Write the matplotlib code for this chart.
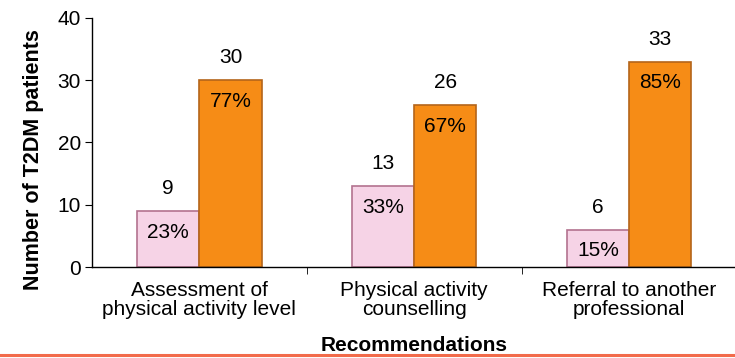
import numpy as np
import matplotlib
matplotlib.use("Agg")
import matplotlib.pyplot as plt
from matplotlib.lines import Line2D

plt.rcParams['font.family'] = ['Liberation Sans', 'DejaVu Sans']

categories = ["Assessment of\nphysical activity level",
              "Physical activity\ncounselling",
              "Referral to another\nprofessional"]
no_counts = [9, 13, 6]
yes_counts = [30, 26, 33]
no_pct = ["23%", "33%", "15%"]
yes_pct = ["77%", "67%", "85%"]

fs = 15

fig = plt.figure(figsize=(7.35, 3.58), dpi=100)
ax = fig.add_axes([0.125, 0.254, 0.877, 0.696])

x = np.arange(len(categories))
w = 0.29
b1 = ax.bar(x - w / 2, no_counts, w, color='#F6D3E6', edgecolor='#B3728F', linewidth=1.2)
b2 = ax.bar(x + w / 2, yes_counts, w, color='#F68C16', edgecolor='#B4651A', linewidth=1.2)

for bars, counts, pcts in [(b1, no_counts, no_pct), (b2, yes_counts, yes_pct)]:
    for bar, c, p in zip(bars, counts, pcts):
        cx = bar.get_x() + bar.get_width() / 2
        ax.text(cx, c + 3.6, str(c), ha='center', va='center', fontsize=fs)
        ax.text(cx, c - 3.4, p, ha='center', va='center', fontsize=fs)

ax.set_xlim(-0.5, 2.5)
ax.set_ylim(0, 40)
ax.set_yticks([0, 10, 20, 30, 40])
ax.tick_params(axis='y', labelsize=fs, length=5, direction='out', pad=3)
ax.set_xticks(x)
ax.set_xticklabels(categories, fontsize=fs, linespacing=1.0)
ax.tick_params(axis='x', length=0, pad=10)
ax.set_xticks([0.5, 1.5], minor=True)
ax.tick_params(axis='x', which='minor', length=5, direction='out')

ax.spines['top'].set_visible(False)
ax.spines['right'].set_visible(False)
ax.spines['left'].set_linewidth(1.0)
ax.spines['bottom'].set_linewidth(1.0)

ax.set_ylabel("Number of T2DM patients", fontsize=15.5, fontweight='bold')
ax.yaxis.set_label_coords(-0.075, 0.43)
fig.text(0.563, 0.034, "Recommendations", ha='center', va='center', fontsize=fs, fontweight='bold')

fig.add_artist(Line2D([0, 1], [0.009, 0.009], color='#F26B4B', linewidth=2.2, transform=fig.transFigure))

fig.savefig("out.png", dpi=100)
